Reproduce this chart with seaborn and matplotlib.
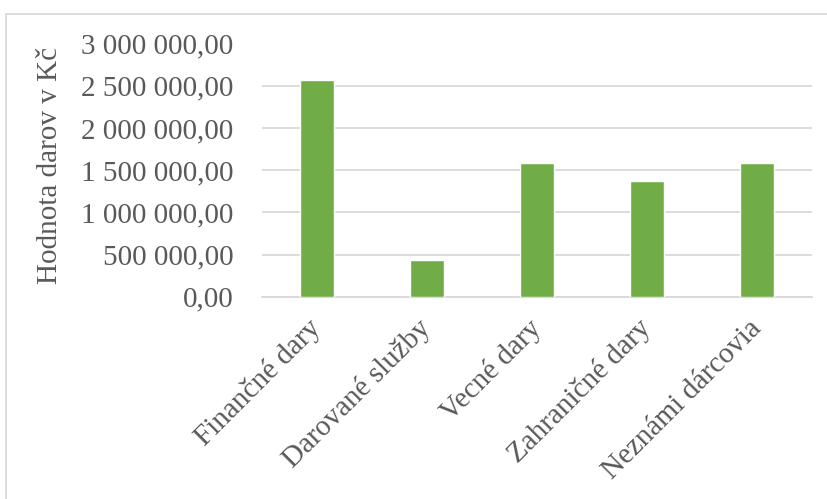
import matplotlib
matplotlib.use("Agg")
import matplotlib.pyplot as plt
import seaborn as sns
import pandas as pd
from matplotlib.patches import Rectangle
from matplotlib.ticker import FuncFormatter

categories = ["Finančné dary", "Darované služby", "Vecné dary", "Zahraničné dary", "Neznámi dárcovia"]
values = [2570000, 431000, 1580000, 1376000, 1583000]
y_ticks = [0, 500000, 1000000, 1500000, 2000000, 2500000, 3000000]
y_label = "Hodnota darov v Kč"

df = pd.DataFrame({"kat": categories, "hodnota": values})

sns.set_theme(style="white")
plt.rcParams["font.family"] = ["Liberation Serif", "DejaVu Serif"]

fig = plt.figure(figsize=(8.27, 4.99), dpi=100)
ax = fig.add_axes([262/827, 1-296.7/499, (812-262)/827, (296.7-43.5)/499])

sns.barplot(data=df, x="kat", y="hodnota", color="#70AD47", width=0.31,
            saturation=1, ax=ax, zorder=3)

ax.set_ylim(0, 3000000)
ax.set_yticks(y_ticks)
def fmt(v, pos):
    s = f"{v:,.2f}".replace(",", " ").replace(".", ",")
    return s
ax.yaxis.set_major_formatter(FuncFormatter(fmt))
ax.grid(axis="y", color="#D9D9D9", linewidth=1.3, zorder=0)
ax.set_axisbelow(True)
for s in ["top", "right", "left"]:
    ax.spines[s].set_visible(False)
ax.spines["bottom"].set_color("#D9D9D9")
ax.spines["bottom"].set_linewidth(1.3)
ax.tick_params(axis="both", length=0, labelsize=21, labelcolor="#595959")
ax.tick_params(axis="y", pad=20.5)
ax.set_xlabel("")
ax.set_ylabel("")
plt.setp(ax.get_xticklabels(), rotation=45, ha="right", rotation_mode="anchor", va="center")
ax.tick_params(axis="x", pad=20)

fig.text(50/827, 1-165/499, y_label, rotation=90, ha="center", va="center",
         fontsize=21, color="#595959")

fig.patches.append(Rectangle((5.5/827, -0.1), 1.2, 1.1 - 14/499 + 0.0, transform=fig.transFigure,
                             fill=False, edgecolor="#D9D9D9", linewidth=1.3))

fig.savefig("out.png", dpi=100)
